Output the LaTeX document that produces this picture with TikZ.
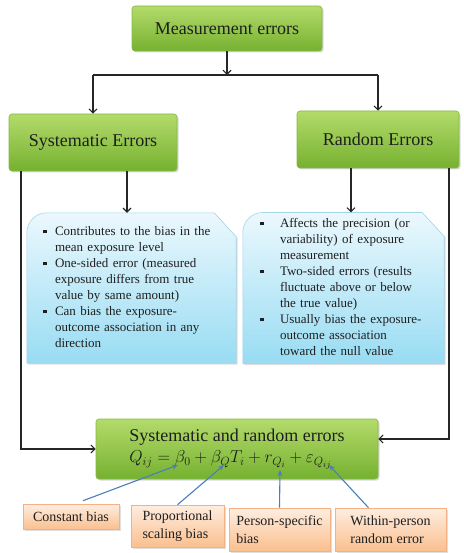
\documentclass[tikz,border=0pt]{standalone}
\usepackage{fontspec}
\setmainfont{Liberation Serif}
\usepackage{xcolor}
\usepackage{tikz}
\usetikzlibrary{arrows.meta, shadows, backgrounds}

\definecolor{greentop}{HTML}{B3DB6B}
\definecolor{greenbot}{HTML}{76B130}
\definecolor{greenline}{HTML}{86B943}
\definecolor{bluetop}{HTML}{EBF8FD}
\definecolor{bluebot}{HTML}{98DCF3}
\definecolor{blueline}{HTML}{A3D6E8}
\definecolor{orangetop}{HTML}{FEEDE0}
\definecolor{orangebot}{HTML}{FAC08F}
\definecolor{orangeline}{HTML}{F4B183}
\definecolor{pointer}{HTML}{4A7EBB}

% square bullet
\newcommand{\sqmark}{\rule[1.8pt]{3.6pt}{3.6pt}}
% snipped note shape drawn behind a node
\newcommand{\snipnote}[1]{\path[notefill] (#1.south west) [rounded corners=20pt] -- (#1.north west) [sharp corners] -- ([xshift=-22pt]#1.north east) -- ([yshift=-24pt]#1.north east) -- (#1.south east) -- cycle;}

\begin{document}
\begin{tikzpicture}[x=1pt, y=-1pt, every node/.style={font=\fontsize{13}{16}\selectfont, text=black!88}]
    % Styles
    \tikzstyle{greenbox} = [rectangle, rounded corners=3pt, draw=greenline, line width=0.6pt, top color=greentop, bottom color=greenbot, drop shadow={opacity=0.3, shadow xshift=1.5pt, shadow yshift=-1.5pt}, font=\fontsize{18}{21}\selectfont]
    \tikzstyle{note} = [rectangle, minimum height=150pt]
    \tikzstyle{notefill} = [draw=blueline, line width=0.6pt, top color=bluetop, bottom color=bluebot, drop shadow={opacity=0.25, shadow xshift=1.5pt, shadow yshift=-1.5pt}]
    \tikzstyle{tag} = [rectangle, draw=orangeline, line width=0.6pt, top color=orangetop, bottom color=orangebot, drop shadow={opacity=0.25, shadow xshift=1.5pt, shadow yshift=-1.5pt}, align=left, font=\fontsize{14}{18}\selectfont]
    \tikzstyle{arrow} = [-{Straight Barb[length=4pt, width=8pt]}, line width=1.1pt, black!85]
    \tikzstyle{pointarrow} = [-{Stealth[length=6pt, width=5pt]}, line width=1.1pt, pointer]

    \useasboundingbox (0,0) rectangle (463,553);

    % Boxes
    \node[greenbox, minimum width=190pt, minimum height=45pt] (meas) at (227,28.5) {Measurement errors};
    \node[greenbox, minimum width=168pt, minimum height=57pt] (syst) at (93,142.5) {Systematic Errors};
    \node[greenbox, minimum width=162pt, minimum height=57pt] (rand) at (378,139.5) {Random Errors};

    \node[note, minimum width=209pt, text width=177pt] (sysnote) at (131.5,288) {%
        \begin{tabular}{@{}p{12pt}@{}p{165pt}@{}}
        \sqmark & Contributes to the bias in the\newline mean exposure level\\
        \sqmark & One-sided error (measured\newline exposure differs from true\newline value by same amount)\\
        \sqmark & Can bias the exposure-\newline outcome association in any\newline direction
        \end{tabular}};
    \node[note, minimum width=201pt, text width=167pt] (randnote) at (343.5,288) {%
        \begin{tabular}{@{}p{20pt}@{}p{147pt}@{}}
        \sqmark & Affects the precision (or\newline variability) of exposure\newline measurement\\
        \sqmark & Two-sided errors (results\newline fluctuate above or below\newline the true value)\\
        \sqmark & Usually bias the exposure-\newline outcome association\newline toward the null value
        \end{tabular}};
    \begin{scope}[on background layer]
        \fill[white] (0,0) rectangle (463,553);
        \snipnote{sysnote}
        \snipnote{randnote}
    \end{scope}

    \node[greenbox, minimum width=282pt, minimum height=60pt, align=left] (errs) at (237,449)
        {Systematic and random errors\\ $Q_{ij}=\beta_0+\beta_Q T_i+r_{Q_i}+\varepsilon_{Q_{ij}}$};

    \node[tag, minimum width=96pt, minimum height=25pt] (const) at (71,516.5) {Constant bias};
    \node[tag, minimum width=93pt, minimum height=42pt] (prop) at (177.5,526) {Proportional\\ scaling bias};
    \node[tag, minimum width=101pt, minimum height=43pt] (pers) at (279.5,529.5) {Person-specific\\ bias};
    \node[tag, minimum width=111pt, minimum height=43pt] (within) at (390.5,529.5) {Within-person\\ random error};

    % Equation terms
    \coordinate (b0) at (178,465);
    \coordinate (bq) at (224,465);
    \coordinate (rq) at (280,470);
    \coordinate (eps) at (329,465);
    \coordinate (split) at (227,75);

    % Arrows
    \draw[arrow] (meas) -- (split);
    \draw[line width=1.1pt, black!85] (syst.north |- split) -- (rand.north |- split);
    \draw[arrow] (syst.north |- split) -- (syst.north);
    \draw[arrow] (rand.north |- split) -- (rand.north);
    \draw[arrow] ([xshift=34pt]syst.south) -- ([xshift=34pt]syst.south |- sysnote.north);
    \draw[arrow] ([xshift=-27pt]rand.south) -- ([xshift=-27pt]rand.south |- randnote.north);
    \draw[arrow] ([xshift=-72pt]syst.south) |- (errs.west);
    \draw[arrow] ([xshift=71pt]rand.south) |- ([yshift=10pt]errs.east);

    \draw[pointarrow] ([xshift=12pt,yshift=3pt]const.north) -- (b0);
    \draw[pointarrow] (prop.north) -- (bq);
    \draw[pointarrow] (pers.north) -- (rq);
    \draw[pointarrow] ([xshift=-22pt]within.north) -- (eps);
\end{tikzpicture}
\end{document}
